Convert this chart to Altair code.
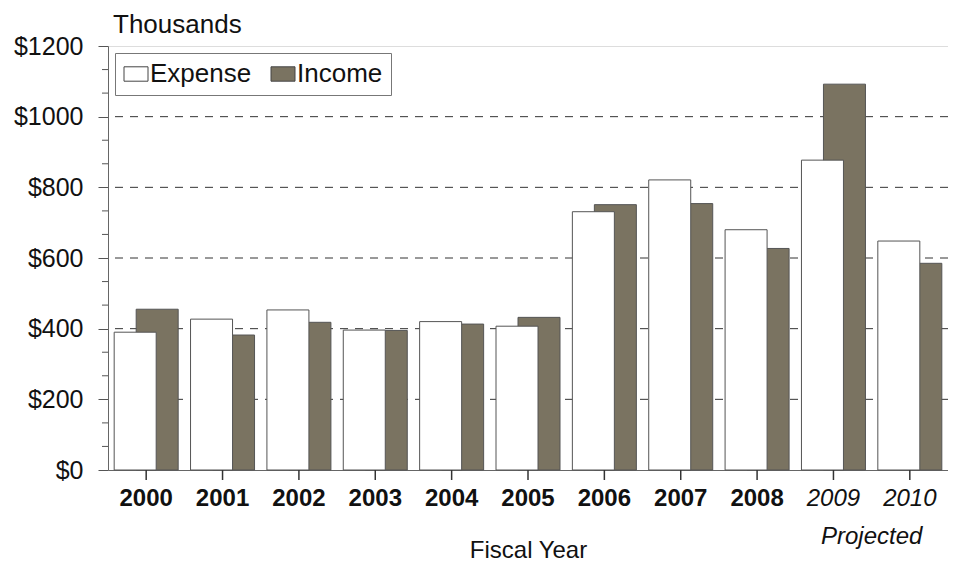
import altair as alt
import pandas as pd

years = ["2000", "2001", "2002", "2003", "2004", "2005", "2006", "2007", "2008", "2009", "2010"]
expense = [390, 427, 453, 396, 420, 407, 731, 821, 680, 877, 648]
income = [455, 382, 418, 395, 413, 432, 751, 754, 627, 1092, 585]
series = ["Expense", "Income"]
y_ticks = [0, 200, 400, 600, 800, 1000, 1200]
grid_vals = [200, 400, 600, 800, 1000]
minor_ticks = [66.7, 133.3, 266.7, 333.3, 466.7, 533.3, 666.7, 733.3, 866.7, 933.3, 1066.7, 1133.3]

rows = []
for i, yr in enumerate(years):
    rows.append({"year": yr, "series": "Expense", "value": expense[i]})
    rows.append({"year": yr, "series": "Income", "value": income[i]})
df = pd.DataFrame(rows)

FONT = "Liberation Sans"
W, H = 840, 424

xscale = alt.Scale(domain=years, paddingInner=0, paddingOuter=0)
yscale = alt.Scale(domain=[0, 1200], nice=False)

x_axis = alt.Axis(
    title="Fiscal Year", titleFont=FONT, titleFontSize=24, titleFontWeight="normal",
    titleColor="#111", titlePadding=28,
    labelFont=FONT, labelFontSize=24, labelColor="#111", labelPadding=16, labelAngle=0,
    labelFontWeight=alt.condition("datum.value == '2009' || datum.value == '2010'", alt.value("normal"), alt.value("bold")),
    labelFontStyle=alt.condition("datum.value == '2009' || datum.value == '2010'", alt.value("italic"), alt.value("normal")),
    ticks=False, domain=True, domainColor="#666", grid=False,
)
y_axis = alt.Axis(
    title=None, values=y_ticks, labelExpr="'$' + datum.value",
    labelFont=FONT, labelFontSize=25, labelColor="#111", labelPadding=15,
    ticks=True, tickSize=10, tickColor="#555", domainColor="#666", grid=False,
)

base = alt.Chart(df)

grid = alt.Chart(pd.DataFrame({"v": grid_vals})).mark_rule(
    color="#333", strokeDash=[8, 7], strokeWidth=1
).encode(y=alt.Y("v:Q", scale=yscale, axis=y_axis))

minor = alt.Chart(pd.DataFrame({"v": minor_ticks})).mark_rule(
    color="#555", strokeWidth=1
).encode(y=alt.Y("v:Q", scale=yscale), x=alt.value(-6), x2=alt.value(0))

xticks = alt.Chart(pd.DataFrame({"year": years})).mark_rule(
    color="#333", strokeWidth=1.5, clip=False
).encode(
    x=alt.X("year:N", scale=xscale, axis=x_axis, bandPosition=0.5),
    y=alt.Y(datum=0, scale=yscale),
    y2=alt.value(H + 10),
)

color = alt.Color(
    "series:N",
    scale=alt.Scale(domain=series, range=["#ffffff", "#7a7361"]),
    legend=alt.Legend(
        title=None, orient="top-left", direction="horizontal", offset=7,
        labelFont=FONT, labelFontSize=26, labelColor="#111", labelOffset=1,
        symbolType="M-1,-0.6H1V0.6H-1Z", symbolSize=576, symbolStrokeWidth=1,
        symbolStrokeColor="#444", columnPadding=17, padding=8,
        strokeColor="#777", fillColor="#ffffff",
    ),
)

inc = base.transform_filter("datum.series == 'Income'").mark_bar(
    width=42, xOffset=11, stroke="#555", strokeWidth=1
).encode(
    x=alt.X("year:N", scale=xscale, axis=x_axis),
    y=alt.Y("value:Q", scale=yscale),
    color=color,
)
exp = base.transform_filter("datum.series == 'Expense'").mark_bar(
    width=42, xOffset=-11, stroke="#555", strokeWidth=1
).encode(
    x=alt.X("year:N", scale=xscale, axis=x_axis),
    y=alt.Y("value:Q", scale=yscale),
    color=color,
)

proj = alt.Chart(pd.DataFrame({"year": ["2009"], "t": ["Projected"]})).mark_text(
    font=FONT, fontSize=24, fontStyle="italic", color="#111", baseline="middle",
    xOffset=W / len(years) / 2
).encode(x=alt.X("year:N", scale=xscale, axis=x_axis), y=alt.value(H + 67), text="t:N")

chart = alt.layer(grid, minor, inc, exp, xticks, proj).properties(
    width=W, height=H,
    title=alt.TitleParams("Thousands", anchor="start", frame="group", dx=5,
                          font=FONT, fontSize=26, fontWeight="normal",
                          color="#111", offset=-4),
    autosize=alt.AutoSizeParams(type="none"),
    padding={"left": 100, "top": 38, "right": 0, "bottom": 92},
).configure_view(stroke="#888", strokeWidth=1).configure(background="white")

chart.save("out.html", embed_options={"renderer": "svg", "actions": False})
